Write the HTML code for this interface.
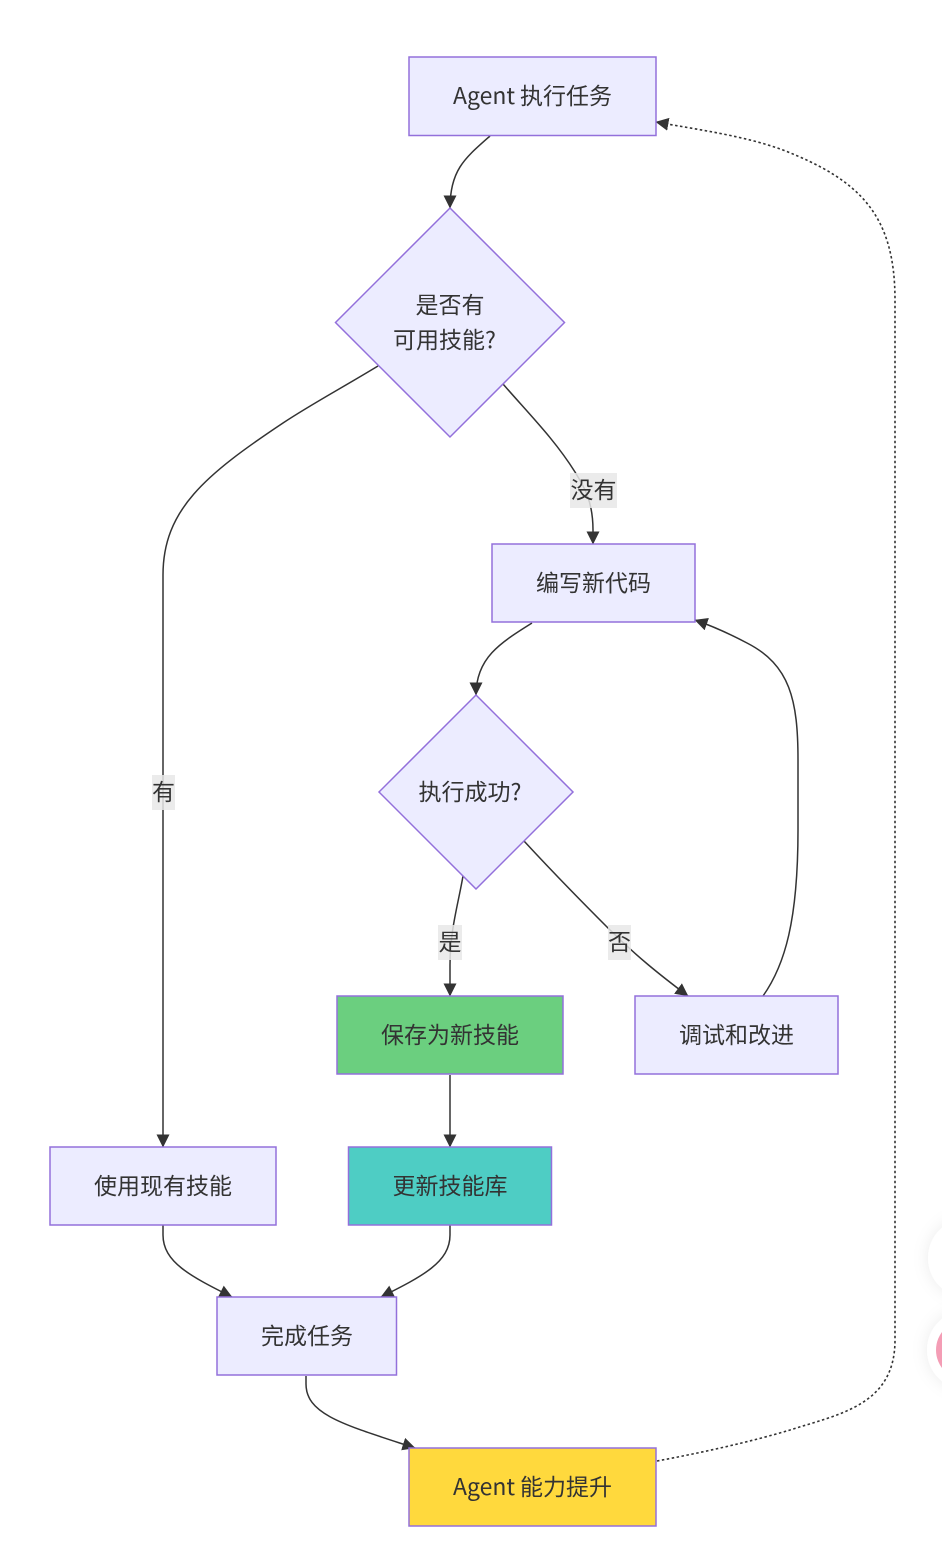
<!DOCTYPE html>
<html lang="zh">
<head>
<meta charset="utf-8">
<title>Agent 技能流程图</title>
<style>
html,body{margin:0;padding:0;background:#fff;width:942px;height:1548px;overflow:hidden}
svg{display:block}
text{font-family:"Noto Sans CJK SC","Liberation Sans",sans-serif;font-size:23px;fill:#333;text-anchor:middle}
.n{stroke:#9370db;stroke-width:1.5}
.e{fill:none;stroke:#333;stroke-width:1.5}
.d{fill:none;stroke:#333;stroke-width:1.6;stroke-dasharray:2.5 2.5}
.l{fill:#e8e8e8;fill-opacity:.85}
</style>
</head>
<body>
<svg width="942" height="1548" viewBox="0 0 942 1548" xmlns="http://www.w3.org/2000/svg">
<defs>
<marker id="a" markerUnits="userSpaceOnUse" markerWidth="15" markerHeight="15" refX="12.500" refY="6.500" orient="auto">
<path d="M0,0 L13,6.500 L0,13 Z" fill="#333"/>
</marker>
<filter id="s" x="-50%" y="-50%" width="200%" height="200%"><feDropShadow dx="0" dy="0" stdDeviation="8" flood-color="#000" flood-opacity="0.08"/></filter>
</defs>

<!-- floating widgets -->
<circle cx="968" cy="1258" r="40" fill="#fff" filter="url(#s)"/>
<circle cx="967" cy="1350" r="40" fill="#fff" filter="url(#s)"/>
<circle cx="966" cy="1350" r="30" fill="#f49db5"/>

<!-- edges -->
<path class="e" marker-end="url(#a)" d="M490,136 C465,158 450,170 450,208"/>
<path class="e" marker-end="url(#a)" d="M378,366 C340,389 310,405 283,423 C205,475 163,510 163,575 L163,1147"/>
<path class="e" marker-end="url(#a)" d="M503,384 C530,415 555,440 575,472 C583,485 593,500 593,530 L593,544"/>
<path class="e" marker-end="url(#a)" d="M532,623 C500,643 476,658 476,695"/>
<path class="e" marker-end="url(#a)" d="M463,876 C458,905 450,930 450,965 L450,996"/>
<path class="e" marker-end="url(#a)" d="M524,841 C560,880 585,905 608,928 C635,955 660,975 688,996"/>
<path class="e" marker-end="url(#a)" d="M763,996 C785,965 798,920 798,830 L798,760 C798,700 790,665 747,643 C730,634 715,627 695,620"/>
<path class="e" marker-end="url(#a)" d="M450,1075 L450,1147"/>
<path class="e" marker-end="url(#a)" d="M163,1225 L163,1235 C163,1262 190,1276 232,1297"/>
<path class="e" marker-end="url(#a)" d="M450,1225 L450,1235 C450,1262 423,1276 381,1297"/>
<path class="e" marker-end="url(#a)" d="M306,1376 L306,1384 C306,1415 345,1425 415,1448"/>
<path class="d" marker-end="url(#a)" d="M657,1461 C700,1453 750,1442 790,1430 C840,1414 895,1405 895,1340 L895,300 C895,215 860,180 783,150 C745,136 700,130 656,122"/>

<!-- nodes -->
<rect class="n" x="409" y="57" width="247" height="78.500" fill="#ececff"/>
<text x="484" y="104">Agent</text>
<text x="566" y="104">执行任务</text>

<polygon class="n" points="450,208 564.500,322.500 450,437 335.500,322.500" fill="#ececff"/>
<text x="450" y="313">是否有</text>
<text x="444.500" y="348">可用技能?</text>

<rect class="n" x="492" y="544" width="203" height="78" fill="#ececff"/>
<text x="593.500" y="591">编写新代码</text>

<polygon class="n" points="476,695 573,792 476,889 379,792" fill="#ececff"/>
<text x="470" y="800">执行成功?</text>

<rect class="n" x="337" y="996" width="226" height="78" fill="#6bcf7f"/>
<text x="450" y="1043">保存为新技能</text>

<rect class="n" x="635" y="996" width="203" height="78" fill="#ececff"/>
<text x="736.500" y="1043">调试和改进</text>

<rect class="n" x="50" y="1147" width="226" height="78" fill="#ececff"/>
<text x="163" y="1194">使用现有技能</text>

<rect class="n" x="348.500" y="1147" width="203" height="78" fill="#4ecdc4"/>
<text x="450" y="1194">更新技能库</text>

<rect class="n" x="217" y="1297" width="179.500" height="78" fill="#ececff"/>
<text x="307" y="1344">完成任务</text>

<rect class="n" x="409" y="1448" width="247" height="78" fill="#ffd93d"/>
<text x="484" y="1495">Agent</text>
<text x="566" y="1495">能力提升</text>

<!-- edge labels -->
<rect class="l" x="570" y="473" width="47" height="35"/>
<text x="593.500" y="498">没有</text>
<rect class="l" x="152" y="775" width="23" height="35"/>
<text x="163.500" y="800">有</text>
<rect class="l" x="438" y="925" width="24" height="35"/>
<text x="450" y="950">是</text>
<rect class="l" x="608" y="925" width="23" height="35"/>
<text x="619.500" y="950">否</text>
</svg>
</body>
</html>
